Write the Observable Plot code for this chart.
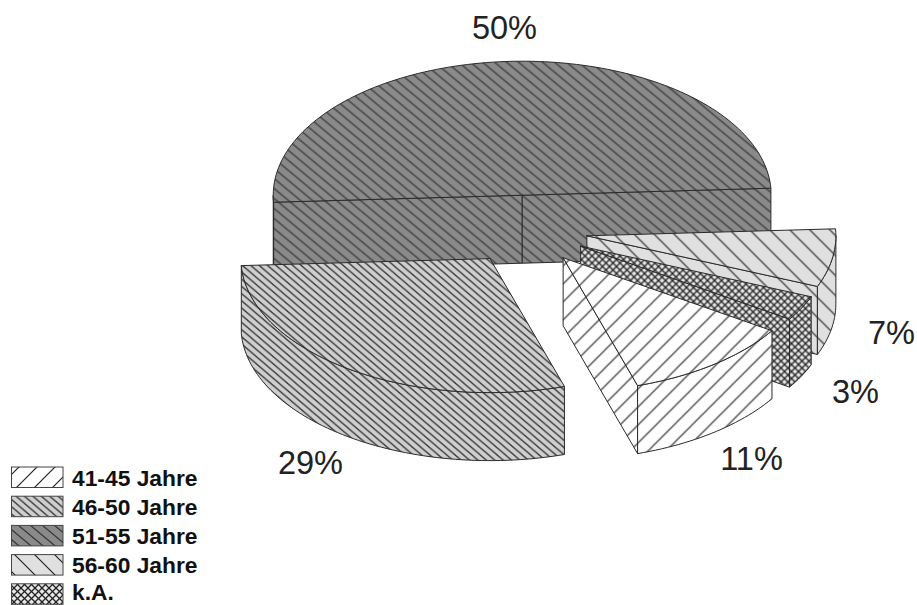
<!DOCTYPE html>
<html>
<head>
<meta charset="utf-8">
<script src="https://cdn.jsdelivr.net/npm/d3@7"></script>
<script src="https://cdn.jsdelivr.net/npm/@observablehq/plot@0.6"></script>
<style>
  html, body { margin: 0; padding: 0; background: #fff; overflow: hidden; }
  svg { display: block; }
</style>
</head>
<body>
<script>
// Age groups and their shares in percent, in legend order.
const categories = ["41-45 Jahre", "46-50 Jahre", "51-55 Jahre", "56-60 Jahre", "k.A."];
const shares = [11, 29, 50, 7, 3];
const patternIds = ["h41", "h46", "h51", "h56", "hka"];

// Where each percentage label sits, in chart units.
const labelX = [751, 310, 504, 891, 855];
const labelY = [459, 463, 28, 333, 392];

const W = 917, H = 605;
const cx = 525, cy = 229.5;     // pie centre on the top plane
const rx = 249, ry = 134;       // ellipse radii of the tilted disc
const depth = 68;               // wall height
const explodeX = 0.25;          // pull-out distance as a fraction of each radius
const explodeY = 0.26;
const startDeg = 123;           // d3.pie angle of the first slice

const rad = Math.PI / 180;

const pie = d3.pie().sort(null).value(d => d)
  .startAngle(startDeg * rad).endAngle((startDeg + 360) * rad)(shares);

// Rim point of a disc centred on (ox, oy); t is measured clockwise from 3 o'clock.
const rim = (ox, oy, t, dz = 0) => ({
  x: ox + rx * Math.cos(t * rad),
  y: oy + ry * Math.sin(t * rad) + dz
});
function arc(ox, oy, t0, t1, dz = 0) {
  const n = Math.max(2, Math.ceil(Math.abs(t1 - t0) / 1.5));
  return d3.range(n + 1).map(i => rim(ox, oy, t0 + (t1 - t0) * i / n, dz));
}
const close = pts => [...pts, pts[0]];

const slices = pie.map((p, i) => {
  const t0 = p.startAngle / rad - 90, t1 = p.endAngle / rad - 90, mid = (t0 + t1) / 2;
  return {
    i, t0, t1, mid,
    ox: cx + explodeX * rx * Math.cos(mid * rad),
    oy: cy + explodeY * ry * Math.sin(mid * rad)
  };
});

// Faces of one extruded slice, far ones first.
function sliceFaces(s) {
  const {ox, oy, t0, t1} = s;
  const faces = [];
  const cut = t => close([
    {x: ox, y: oy},
    rim(ox, oy, t),
    rim(ox, oy, t, depth),
    {x: ox, y: oy + depth}
  ]);
  if (-Math.cos(t0 * rad) > 0) faces.push(cut(t0));
  if (Math.cos(t1 * rad) > 0) faces.push(cut(t1));
  // The outer wall shows only on the lower half of the ellipse.
  for (const k of [-1, 0, 1, 2]) {
    const a = Math.max(t0, 360 * k), b = Math.min(t1, 360 * k + 180);
    if (b > a) faces.push(close([...arc(ox, oy, a, b), ...arc(ox, oy, b, a, depth)]));
  }
  faces.push(close([{x: ox, y: oy}, ...arc(ox, oy, t0, t1)]));
  return faces;
}

// Back-to-front painting order of the slices.
const painted = [...slices].sort((a, b) => Math.sin(a.mid * rad) - Math.sin(b.mid * rad));

const faceMarks = painted.flatMap(s =>
  sliceFaces(s).map(pts => Plot.line(pts, {
    x: "x", y: "y",
    fill: `url(#${patternIds[s.i]})`,
    stroke: "#2a2a2a", strokeWidth: 1, strokeLinejoin: "round", curve: "linear"
  }))
);

// Diagonal hatch tile: one line per tile, sx apart horizontally, sy vertically.
function hatch(id, bg, sx, sy, dir, ink, sw) {
  const line = ox => dir > 0
    ? `M${ox - sx},${2 * sy} L${ox + 2 * sx},${-sy}`
    : `M${ox - sx},${-sy} L${ox + 2 * sx},${2 * sy}`;
  return `<pattern id="${id}" patternUnits="userSpaceOnUse" width="${sx}" height="${sy}">
    <rect width="${sx}" height="${sy}" fill="${bg}"/>
    <path d="${line(-sx)} ${line(0)} ${line(sx)}" stroke="${ink}" stroke-width="${sw}" fill="none"/>
  </pattern>`;
}
const defs = () => {
  const g = d3.create("svg:defs");
  g.html(
    hatch("h41", "#ffffff", 18, 18, 1, "#222", 1.2) +
    hatch("h46", "#cfcfcf", 8.4, 7.2, -1, "#333", 1.3) +
    hatch("h51", "#8a8a8a", 12, 10, -1, "#333", 1.25) +
    hatch("h56", "#e0e0e0", 20, 20, -1, "#222", 1.2) +
    `<pattern id="hka" patternUnits="userSpaceOnUse" width="7" height="7">
       <rect width="7" height="7" fill="#e8e8e8"/>
       <g stroke="#222" stroke-width="1.3" fill="none">
         <path d="M0,0 L7,7 M-7,0 L7,14 M0,-7 L14,7"/>
         <path d="M0,7 L7,0 M-7,7 L7,-7 M0,14 L14,0"/>
       </g></pattern>`
  );
  return g.node();
};

// Legend rows, laid out by index; the last row is held inside the bottom edge.
const rowTop = i => 467 + i * 29.2;
const rowText = i => Math.min(rowTop(i) + 11, 592);
const legendRows = categories.map((c, i) => ({c, i}));

const labels = slices.map(s => ({
  text: shares[s.i] + "%", x: labelX[s.i], y: labelY[s.i]
}));

const chart = Plot.plot({
  width: W, height: H,
  margin: 0,
  x: {domain: [0, W], range: [0, W], axis: null},
  y: {domain: [0, H], range: [0, H], axis: null},
  style: {background: "#fff", fontFamily: "'Liberation Sans', Arial, sans-serif"},
  marks: [
    defs,
    ...faceMarks,
    Plot.text(labels, {
      x: "x", y: "y", text: "text", fontSize: 32.5, fill: "#222",
      textAnchor: "middle", lineAnchor: "middle"
    }),
    ...legendRows.map(({i}) => Plot.rect([i], {
      x1: () => 11.5, x2: () => 63, y1: d => rowTop(d), y2: d => rowTop(d) + 20.5,
      fill: `url(#${patternIds[i]})`, stroke: "#444", strokeWidth: 1
    })),
    Plot.text(legendRows, {
      x: () => 71.5, y: d => rowText(d.i), text: "c",
      fontSize: 22.8, fontWeight: "bold", fill: "#111",
      textAnchor: "start", lineAnchor: "middle"
    })
  ]
});
document.body.appendChild(chart);
</script>
</body>
</html>
